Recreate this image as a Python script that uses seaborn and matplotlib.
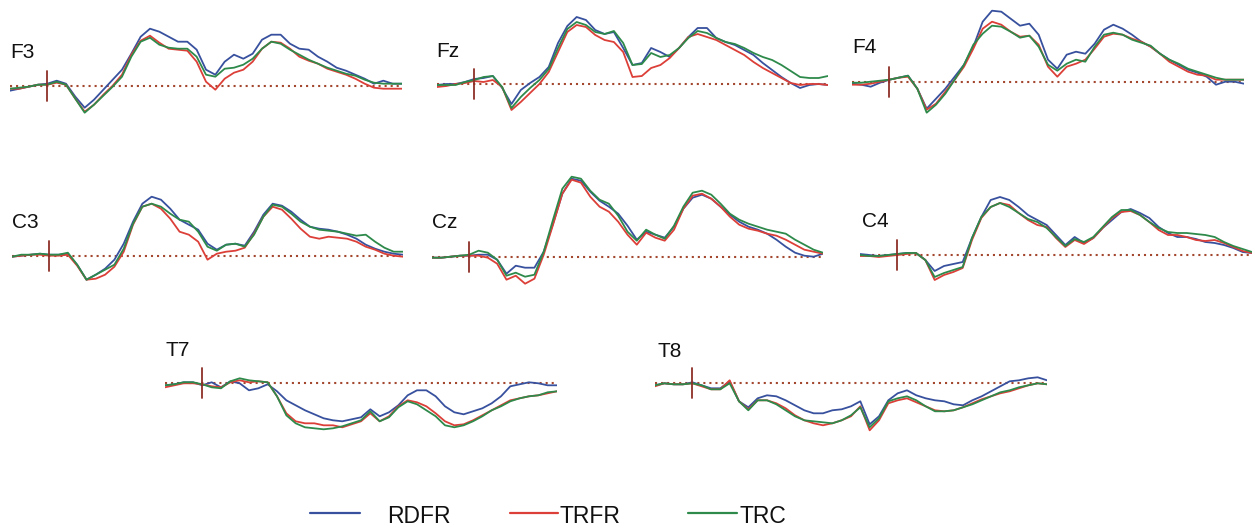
import matplotlib
matplotlib.use("Agg")
import matplotlib.pyplot as plt
from matplotlib.lines import Line2D
import pandas as pd
import seaborn as sns

# ---------------------------------------------------------------------------
# Grand-average ERP waveforms (µV), epoch -100 .. 950 ms, 25 ms resolution
# ---------------------------------------------------------------------------
time_ms = list(range(-100, 951, 25))

conditions = ["RDFR", "TRFR", "TRC"]
line_colors = ["#38519e", "#dc3f38", "#2e8a4b"]

f3_rdfr = [-0.5, -0.3, -0.1, 0.1, 0.2, 0.5, 0.2, -1.1, -2.2, -1.4, -0.4, 0.6, 1.6, 3.2, 4.9, 5.7, 5.4, 4.9, 4.4, 4.4, 3.6, 1.6, 1.1, 2.4, 3.1, 2.7, 3.2, 4.6, 5.1, 5.1, 4.2, 3.7, 3.6, 2.9, 2.4, 1.8, 1.5, 1.1, 0.7, 0.2, 0.5, 0.2, 0.2]
f3_trfr = [-0.3, -0.3, -0.1, 0.1, 0.1, 0.3, 0.1, -1.3, -2.6, -1.9, -0.9, 0.0, 1.1, 3.1, 4.5, 5.0, 4.3, 3.7, 3.6, 3.5, 2.4, 0.4, -0.4, 0.7, 1.3, 1.6, 2.4, 3.7, 4.4, 4.3, 3.7, 2.9, 2.5, 2.2, 1.7, 1.4, 1.1, 0.7, 0.2, -0.2, -0.3, -0.3, -0.3]
f3_trc = [-0.3, -0.2, -0.1, 0.1, 0.1, 0.4, 0.1, -1.3, -2.7, -1.9, -1.0, -0.1, 0.9, 2.9, 4.4, 4.8, 4.1, 3.8, 3.7, 3.7, 2.9, 1.1, 0.9, 1.7, 1.8, 2.1, 2.7, 3.7, 4.4, 4.2, 3.6, 3.1, 2.6, 2.2, 1.8, 1.5, 1.2, 1.0, 0.6, 0.3, 0.2, 0.2, 0.2]

fz_rdfr = [-0.1, 0.0, 0.0, 0.2, 0.5, 0.6, 0.8, -0.4, -2.0, -0.6, 0.1, 0.7, 1.7, 4.1, 5.8, 6.7, 6.4, 5.4, 5.0, 5.2, 3.6, 1.9, 2.1, 3.6, 3.2, 2.7, 3.6, 4.7, 5.6, 5.6, 4.6, 4.2, 3.9, 3.4, 2.9, 2.1, 1.4, 0.7, 0.1, -0.4, -0.1, 0.0, -0.1]
fz_trfr = [-0.3, -0.2, 0.0, 0.1, 0.3, 0.2, 0.4, -0.3, -2.6, -1.8, -0.9, 0.0, 1.2, 3.2, 5.2, 5.9, 5.7, 4.9, 4.4, 4.2, 3.2, 0.7, 0.8, 1.6, 1.9, 2.6, 3.6, 4.7, 5.0, 4.7, 4.4, 3.9, 3.4, 2.9, 2.2, 1.6, 1.1, 0.6, 0.1, -0.1, 0.0, 0.0, -0.1]
fz_trc = [-0.1, -0.1, -0.1, 0.2, 0.4, 0.7, 0.8, -0.3, -2.4, -1.3, -0.4, 0.4, 1.5, 3.6, 5.5, 6.2, 5.9, 5.2, 5.0, 5.3, 4.1, 1.9, 2.0, 3.1, 2.7, 2.9, 3.6, 4.6, 5.3, 5.1, 4.6, 4.2, 4.0, 3.6, 3.1, 2.7, 2.4, 1.9, 1.3, 0.7, 0.6, 0.6, 0.8]

f4_rdfr = [-0.2, -0.3, -0.5, -0.1, 0.2, 0.4, 0.6, -0.7, -2.7, -1.7, -0.7, 0.5, 1.7, 3.5, 6.0, 7.1, 7.0, 6.3, 5.6, 5.8, 4.7, 2.2, 1.3, 2.7, 3.0, 2.8, 3.8, 5.2, 5.7, 5.3, 4.7, 4.0, 3.5, 2.8, 2.2, 1.7, 1.2, 0.9, 0.5, -0.3, 0.0, 0.0, -0.2]
f4_trfr = [-0.3, -0.3, -0.2, 0.0, 0.2, 0.4, 0.5, -0.7, -2.8, -2.2, -1.0, 0.2, 1.5, 3.3, 5.3, 6.0, 5.7, 5.0, 4.5, 4.6, 3.7, 1.5, 0.5, 1.5, 1.8, 2.2, 3.3, 4.5, 4.8, 4.7, 4.3, 4.0, 3.5, 2.8, 2.0, 1.5, 1.0, 0.7, 0.6, 0.2, 0.2, 0.2, 0.2]
f4_trc = [-0.1, -0.1, 0.0, 0.1, 0.2, 0.4, 0.6, -0.7, -3.1, -2.3, -1.2, 0.2, 1.7, 3.7, 4.8, 5.6, 5.5, 5.0, 4.4, 4.6, 3.5, 1.7, 1.1, 1.8, 2.2, 2.0, 3.5, 4.7, 4.9, 4.7, 4.2, 3.9, 3.6, 2.8, 2.2, 1.8, 1.3, 1.0, 0.7, 0.4, 0.2, 0.2, 0.2]

c3_rdfr = [-0.1, 0.0, 0.1, 0.2, 0.1, 0.1, 0.2, -0.9, -2.4, -1.9, -1.3, -0.4, 1.2, 3.4, 5.2, 5.9, 5.6, 4.7, 3.6, 3.1, 2.6, 1.2, 0.6, 1.1, 1.2, 1.0, 2.4, 4.1, 5.2, 5.0, 4.4, 3.6, 2.9, 2.7, 2.6, 2.4, 2.1, 1.7, 1.1, 0.7, 0.4, 0.2, 0.1]
c3_trfr = [-0.1, 0.0, 0.1, 0.1, 0.0, 0.0, 0.1, -1.0, -2.4, -2.3, -1.9, -1.1, 0.4, 3.1, 4.9, 5.2, 4.7, 3.7, 2.4, 2.1, 1.4, -0.4, 0.2, 0.4, 0.5, 0.8, 2.2, 3.9, 4.9, 4.6, 3.7, 2.7, 1.9, 1.7, 1.9, 1.8, 1.7, 1.4, 0.9, 0.6, 0.2, 0.0, -0.1]
c3_trc = [-0.1, 0.1, 0.1, 0.2, 0.1, 0.1, 0.3, -0.9, -2.4, -1.9, -1.4, -0.9, 0.7, 3.2, 4.9, 5.2, 4.9, 4.2, 3.6, 3.4, 2.4, 0.9, 0.5, 1.1, 1.2, 0.9, 2.1, 3.9, 5.1, 4.9, 4.2, 3.4, 2.9, 2.6, 2.5, 2.4, 2.2, 2.0, 2.1, 1.4, 0.8, 0.4, 0.4]

cz_rdfr = [-0.1, -0.1, 0.0, 0.1, 0.1, 0.2, 0.2, -0.3, -1.7, -0.9, -1.1, -1.1, 0.5, 3.3, 6.3, 7.8, 7.6, 6.5, 5.6, 5.0, 4.3, 3.1, 1.7, 2.5, 2.2, 1.9, 3.0, 4.8, 5.9, 6.2, 5.8, 5.0, 4.2, 3.5, 3.0, 2.7, 2.3, 1.7, 1.0, 0.4, 0.1, 0.0, 0.3]
cz_trfr = [-0.1, -0.1, 0.0, 0.1, 0.1, 0.1, -0.1, -0.7, -2.3, -1.9, -2.7, -2.2, 0.2, 3.2, 6.3, 7.7, 7.4, 6.0, 5.0, 4.5, 3.5, 2.2, 1.2, 2.4, 1.9, 1.6, 2.7, 4.8, 6.1, 6.3, 5.8, 5.0, 4.0, 3.2, 2.8, 2.6, 2.3, 2.1, 1.7, 1.2, 0.7, 0.5, 0.3]
cz_trc = [-0.1, -0.1, 0.0, 0.1, 0.2, 0.6, 0.4, -0.3, -1.9, -1.6, -2.0, -1.8, 0.5, 3.7, 6.8, 8.0, 7.8, 6.6, 5.7, 5.3, 4.1, 2.5, 1.6, 2.7, 2.2, 1.8, 3.1, 5.0, 6.4, 6.6, 6.2, 5.3, 4.3, 3.7, 3.3, 3.0, 2.7, 2.5, 2.3, 1.7, 1.2, 0.7, 0.4]

c4_rdfr = [0.1, 0.0, -0.1, 0.0, 0.1, 0.2, 0.2, -0.5, -1.6, -1.1, -0.9, -0.7, 1.7, 3.8, 5.5, 5.8, 5.5, 4.8, 4.0, 3.5, 3.0, 2.0, 1.0, 1.8, 1.2, 1.7, 2.7, 3.5, 4.3, 4.6, 4.2, 3.7, 2.8, 2.2, 1.8, 1.8, 1.6, 1.3, 1.2, 1.0, 0.7, 0.3, 0.2]
c4_trfr = [-0.1, -0.1, -0.2, -0.1, 0.0, 0.1, 0.2, -0.5, -2.5, -2.0, -1.7, -1.3, 1.5, 3.7, 4.8, 5.2, 5.0, 4.2, 3.5, 3.0, 2.8, 1.7, 0.8, 1.5, 1.1, 1.7, 2.7, 3.7, 4.3, 4.4, 4.0, 3.3, 2.5, 2.0, 2.0, 1.8, 1.5, 1.4, 1.5, 1.2, 0.8, 0.4, 0.2]
c4_trc = [0.0, -0.1, -0.1, 0.0, 0.1, 0.2, 0.2, -0.5, -2.2, -1.8, -1.5, -1.2, 1.7, 3.8, 4.8, 5.2, 4.8, 4.2, 3.6, 3.3, 2.7, 1.8, 0.9, 1.6, 1.3, 1.8, 2.8, 3.8, 4.5, 4.5, 4.0, 3.3, 2.7, 2.3, 2.2, 2.2, 2.1, 2.0, 1.8, 1.3, 0.9, 0.6, 0.3]

t7_rdfr = [-0.2, -0.1, 0.1, 0.1, -0.2, 0.1, -0.4, 0.2, 0.0, -0.7, -0.5, -0.1, -0.8, -1.7, -2.2, -2.7, -3.1, -3.5, -3.7, -3.8, -3.6, -3.4, -2.6, -3.3, -2.9, -2.2, -1.2, -0.7, -0.7, -1.3, -2.3, -2.9, -3.1, -2.8, -2.5, -2.0, -1.3, -0.3, -0.1, 0.1, 0.0, -0.2, -0.2]
t7_trfr = [-0.4, -0.2, 0.0, 0.0, -0.1, -0.3, -0.4, 0.1, 0.3, 0.1, 0.2, 0.1, -1.3, -3.0, -3.8, -4.0, -4.0, -4.2, -4.2, -4.4, -4.1, -3.8, -3.0, -3.8, -3.3, -2.3, -1.7, -1.9, -2.3, -3.0, -3.8, -4.2, -4.1, -3.7, -3.2, -2.7, -2.2, -1.7, -1.5, -1.3, -1.2, -1.0, -0.8]
t7_trc = [-0.2, -0.1, 0.1, 0.1, -0.1, -0.4, -0.5, 0.2, 0.5, 0.3, 0.2, 0.1, -1.3, -3.2, -4.0, -4.4, -4.5, -4.6, -4.5, -4.3, -4.0, -3.7, -2.8, -3.8, -3.4, -2.4, -1.8, -2.1, -2.7, -3.3, -4.2, -4.4, -4.2, -3.8, -3.3, -2.7, -2.3, -1.8, -1.5, -1.3, -1.2, -0.9, -0.8]

t8_rdfr = [-0.2, 0.0, -0.1, -0.1, 0.1, -0.2, -0.5, -0.5, 0.2, -1.8, -2.4, -1.5, -1.2, -1.3, -1.7, -2.2, -2.7, -3.0, -3.0, -2.7, -2.6, -2.3, -1.8, -4.1, -3.3, -1.7, -1.0, -0.7, -1.2, -1.5, -1.7, -1.8, -2.1, -2.2, -1.7, -1.3, -0.8, -0.3, 0.2, 0.3, 0.5, 0.6, 0.3]
t8_trfr = [-0.3, 0.0, -0.1, -0.1, 0.0, -0.3, -0.6, -0.6, 0.3, -1.8, -2.6, -1.7, -1.7, -2.0, -2.5, -3.2, -3.7, -4.0, -4.2, -4.0, -3.7, -3.3, -2.3, -4.7, -3.7, -2.0, -1.7, -1.5, -1.9, -2.3, -2.7, -2.8, -2.7, -2.4, -2.0, -1.6, -1.3, -1.0, -0.8, -0.5, -0.2, 0.0, -0.1]
t8_trc = [-0.2, 0.0, -0.1, -0.1, 0.0, -0.2, -0.6, -0.6, 0.0, -1.8, -2.7, -1.7, -1.7, -2.1, -2.7, -3.3, -3.7, -3.8, -3.9, -4.0, -3.7, -3.2, -2.4, -4.4, -3.5, -1.8, -1.5, -1.3, -1.7, -2.3, -2.8, -2.8, -2.7, -2.4, -2.1, -1.7, -1.3, -0.9, -0.7, -0.4, -0.2, 0.0, -0.1]

electrodes = ["F3", "Fz", "F4", "C3", "Cz", "C4", "T7", "T8"]
waveforms = {
    "F3": (f3_rdfr, f3_trfr, f3_trc),
    "Fz": (fz_rdfr, fz_trfr, fz_trc),
    "F4": (f4_rdfr, f4_trfr, f4_trc),
    "C3": (c3_rdfr, c3_trfr, c3_trc),
    "Cz": (cz_rdfr, cz_trfr, cz_trc),
    "C4": (c4_rdfr, c4_trfr, c4_trc),
    "T7": (t7_rdfr, t7_trfr, t7_trc),
    "T8": (t8_rdfr, t8_trfr, t8_trc),
}

# ---------------------------------------------------------------------------
# Layout (figure pixels): left, right, zero-line height, label x, label baseline
# ---------------------------------------------------------------------------
W, H = 1255, 528
layout = {
    "F3": (10, 402, 85.7, 10, 57.7),
    "Fz": (437, 828, 84.0, 436, 57),
    "F4": (852, 1244, 81.7, 852, 53),
    "C3": (12, 403, 255.7, 12, 228),
    "Cz": (432, 823, 256.7, 432, 228),
    "C4": (860, 1252, 255.0, 862, 227),
    "T7": (165, 557, 383.3, 165, 355.5),
    "T8": (655, 1047, 383.3, 657, 357),
}
Y_LO, Y_HI = -6.5, 8.5          # µV, 10 px per µV
PX_PER_UV = 10.0
ref_color = "#a4472f"
onset_color = "#8e2f27"

sns.set_theme(style="white")
plt.rcParams["font.family"] = ["Liberation Sans", "DejaVu Sans"]

fig = plt.figure(figsize=(W / 100, H / 100), dpi=100)
fig.patch.set_facecolor("white")

for name in electrodes:
    x0, x1, y0, lx, ly = layout[name]
    top_px = y0 - Y_HI * PX_PER_UV
    height_px = (Y_HI - Y_LO) * PX_PER_UV
    ax = fig.add_axes([x0 / W, 1 - (top_px + height_px) / H,
                       (x1 - x0) / W, height_px / H])
    ax.patch.set_alpha(0)

    frames = []
    for cond, values in zip(conditions, waveforms[name]):
        frames.append(pd.DataFrame({"time": time_ms, "amp": values, "condition": cond}))
    df = pd.concat(frames, ignore_index=True)

    # zero line and stimulus-onset marker
    ax.axhline(0, color=ref_color, lw=1.5, ls=(0, (1.0, 1.9)), zorder=1)
    span = 1.5
    ax.axvline(0, ymin=(-span - Y_LO) / (Y_HI - Y_LO), ymax=(span - Y_LO) / (Y_HI - Y_LO),
               color=onset_color, lw=1.3, zorder=4)

    sns.lineplot(data=df, x="time", y="amp", hue="condition", hue_order=conditions,
                 palette=line_colors, estimator=None, sort=False, legend=False,
                 linewidth=1.3, ax=ax, zorder=3)

    ax.set_xlim(-100, 950)
    ax.set_ylim(Y_LO, Y_HI)
    ax.set_axis_off()

    fig.text(lx / W, 1 - ly / H, name, fontsize=15, color="#111111",
             ha="left", va="baseline")

# ---------------------------------------------------------------------------
# Legend row
# ---------------------------------------------------------------------------
legend_items = [
    ("RDFR", line_colors[0], 310, 360, 387),
    ("TRFR", line_colors[1], 510, 558, 560),
    ("TRC", line_colors[2], 688, 737, 740),
]
leg_y = 512.7
for label, color, lx0, lx1, tx in legend_items:
    fig.add_artist(Line2D([lx0 / W, lx1 / W], [1 - leg_y / H, 1 - leg_y / H],
                          transform=fig.transFigure, color=color, lw=1.6))
    fig.text(tx / W, 1 - 523 / H, label, fontsize=16.5, color="#111111",
             ha="left", va="baseline")

fig.savefig("out.png", dpi=100, facecolor="white")
